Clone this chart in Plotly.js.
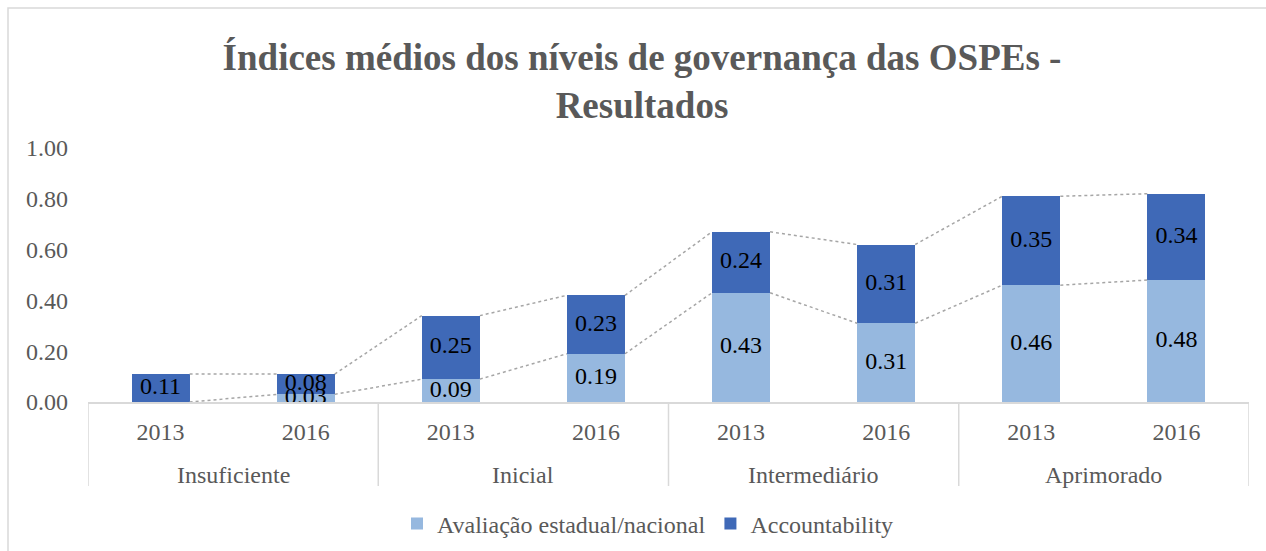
<!DOCTYPE html>
<html>
<head>
<meta charset="utf-8">
<script src="https://cdn.plot.ly/plotly-3.0.1.min.js"></script>
<style>html,body{margin:0;padding:0;background:#fff;}#chart{width:1266px;height:551px;}</style>
</head>
<body>
<div id="chart"></div>
<script>
// ---- data ----
const groups = ['Insuficiente', 'Inicial', 'Intermediário', 'Aprimorado'];
const years = ['2013', '2016'];
const avaliacao = [0.00, 0.03, 0.09, 0.19, 0.43, 0.31, 0.46, 0.48];
const accountability = [0.11, 0.08, 0.25, 0.23, 0.24, 0.31, 0.35, 0.34];
const seriesNames = ['Avaliação estadual/nacional', 'Accountability'];
const titleText = 'Índices médios dos níveis de governança das OSPEs -<br>Resultados';

// ---- derived ----
const tickText = [];
groups.forEach(() => years.forEach(y => tickText.push(y)));
const xPos = tickText.map((_, i) => i);
const barW = 0.4;
const fmt = v => v > 0 ? v.toFixed(2) : '';

const cumA = avaliacao.slice();
const cumT = avaliacao.map((v, i) => v + accountability[i]);

function seriesLine(vals) {
  const xs = [], ys = [];
  for (let i = 0; i < vals.length - 1; i++) {
    xs.push(xPos[i] + barW / 2, xPos[i + 1] - barW / 2, null);
    ys.push(vals[i], vals[i + 1], null);
  }
  return {x: xs, y: ys};
}

const FONT = 'Liberation Serif';
const GRAY = '#595959';
const LINE = '#D9D9D9';
const FS = 24;

const barCommon = {type: 'bar', width: barW, hoverinfo: 'skip', textposition: 'none'};

const sl1 = seriesLine(cumA), sl2 = seriesLine(cumT);
const lineStyle = {color: '#A6A6A6', width: 1.5, dash: 'dot'};

const labelFont = {family: FONT, size: FS, color: '#000000'};
const traces = [
  Object.assign({}, barCommon, {name: seriesNames[0], x: xPos, y: avaliacao, marker: {color: '#96B8DF'}}),
  Object.assign({}, barCommon, {name: seriesNames[1], x: xPos, y: accountability, marker: {color: '#3F69B7'}}),
  {type: 'scatter', mode: 'lines', x: sl1.x, y: sl1.y, line: lineStyle, showlegend: false, hoverinfo: 'skip'},
  {type: 'scatter', mode: 'lines', x: sl2.x, y: sl2.y, line: lineStyle, showlegend: false, hoverinfo: 'skip'},
  // data labels, centred in each stacked segment
  {type: 'scatter', mode: 'text', x: xPos, y: avaliacao.map(v => v / 2), text: avaliacao.map(fmt),
    textposition: 'middle center', textfont: labelFont, showlegend: false, hoverinfo: 'skip', cliponaxis: false},
  {type: 'scatter', mode: 'text', x: xPos, y: accountability.map((v, i) => avaliacao[i] + v / 2), text: accountability.map(fmt),
    textposition: 'middle center', textfont: labelFont, showlegend: false, hoverinfo: 'skip', cliponaxis: false}
];

const L = 88, R = 1249, T = 148, B = 402, W = 1266, H = 551;
const pw = R - L, ph = B - T;
const px2x = p => (p - L) / pw;
const py2y = p => (B - p) / ph;

const shapes = [];
for (let g = 0; g <= groups.length; g++) {
  const xv = g * years.length - 0.5;
  shapes.push({type: 'line', xref: 'x', yref: 'paper', x0: xv, x1: xv, y0: 0, y1: py2y(486),
    line: {color: LINE, width: 1.5}});
}
shapes.push({type: 'rect', xref: 'paper', yref: 'paper', x0: px2x(8), x1: px2x(1275), y0: py2y(560), y1: py2y(8),
  line: {color: LINE, width: 1.5}, fillcolor: 'rgba(0,0,0,0)'});

const annotations = groups.map((g, i) => ({
  text: g, xref: 'x', yref: 'paper', x: i * years.length + (years.length - 1) / 2, y: py2y(475),
  yanchor: 'middle', xanchor: 'center', showarrow: false,
  font: {family: FONT, size: FS, color: GRAY}
}));

const layout = {
  width: W, height: H,
  margin: {l: L, r: W - R, t: T, b: H - B, pad: 0, autoexpand: false},
  paper_bgcolor: '#ffffff', plot_bgcolor: '#ffffff',
  barmode: 'stack',
  showlegend: true,
  title: {text: titleText, x: 642 / W, xref: 'container', xanchor: 'center',
    y: 1 - 70 / H, yref: 'container', yanchor: 'top', automargin: false,
    font: {family: FONT, size: 37, color: GRAY, weight: 'bold'}},
  xaxis: {range: [-0.5, 7.5], tickvals: xPos, ticktext: tickText, showgrid: false, zeroline: false,
    showline: true, linecolor: LINE, linewidth: 1.5, ticks: '', ticklabelstandoff: 8, automargin: false,
    tickfont: {family: FONT, size: FS, color: GRAY}, fixedrange: true},
  yaxis: {range: [0, 1.0], tickvals: [0, 0.2, 0.4, 0.6, 0.8, 1.0], tickformat: '.2f', showgrid: false,
    zeroline: false, showline: false, ticks: '', ticklabelstandoff: 19, automargin: false,
    tickfont: {family: FONT, size: FS, color: GRAY}, fixedrange: true},
  legend: {orientation: 'h', xref: 'container', yref: 'container', x: 648 / W, xanchor: 'center',
    y: (H - 524) / H, yanchor: 'middle',
    font: {family: FONT, size: FS, color: GRAY}, itemclick: false, traceorder: 'normal'},
  shapes: shapes,
  annotations: annotations
};

Plotly.newPlot('chart', traces, layout, {staticPlot: true, displayModeBar: false});
</script>
</body>
</html>
